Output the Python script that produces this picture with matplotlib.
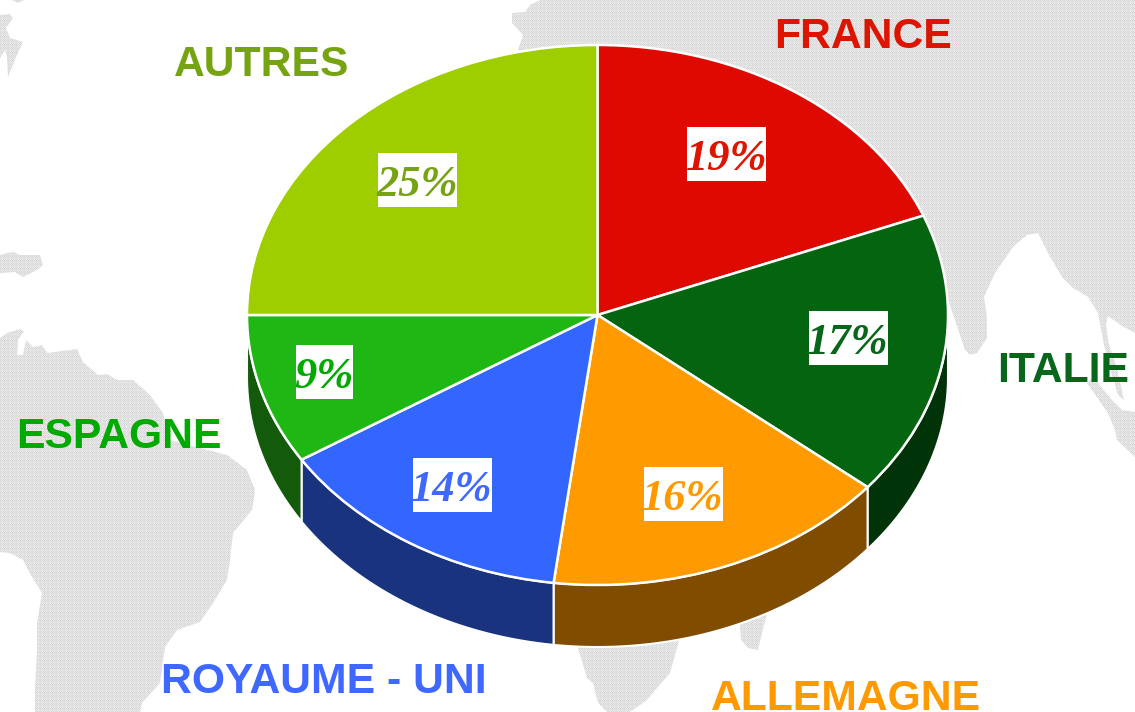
import numpy as np
import matplotlib
matplotlib.use('Agg')
import matplotlib.pyplot as plt
from matplotlib.patches import Polygon, Rectangle
from matplotlib.transforms import Affine2D

# data
pays = ['FRANCE', 'ITALIE', 'ALLEMAGNE', 'ROYAUME - UNI', 'ESPAGNE', 'AUTRES']
parts = [19, 17, 16, 14, 9, 25]
couleurs = ['#DE0A02', '#04640F', '#FF9A00', '#3366FF', '#1FB714', '#9ECD00']
couleurs_cote = ['#8A0601', '#003308', '#804D00', '#1A337F', '#135A0B', '#5F7B00']
couleurs_noms = ['#DD1500', '#06661A', '#FF9900', '#3E68FF', '#00AA00', '#76A310']

# position of the names (left, baseline) and of the white percent boxes (centre)
noms_xy = [(774, 48), (997, 382), (711, 710), (161, 693), (16, 448), (174, 76)]
boites_xy = [(726.5, 154), (848, 338), (683, 494), (452, 485), (324.5, 372), (417.5, 180)]

# background map, outlines in pixels
asie = [(540, 0), (1135, 0), (1135, 333), (1122, 326), (1108, 316), (1106, 325), (1109, 345),
        (1116, 365), (1120, 382), (1124, 400), (1118, 395), (1112, 375), (1104, 345), (1098, 313),
        (1088, 297), (1073, 288), (1062, 277), (1048, 253), (1038, 233), (1027, 235), (1013, 247),
        (995, 273), (984, 297), (987, 317), (987, 338), (977, 353), (970, 355), (965, 350),
        (955, 320), (948, 300), (900, 300), (600, 100), (518, 50), (523, 35), (512, 23),
        (512, 13), (525, 12), (530, 5)]
bande = [(1087, 383), (1093, 377), (1098, 383), (1112, 400), (1122, 410), (1135, 412), (1135, 457),
         (1117, 440), (1115, 430), (1108, 413)]
amerique_sud = [(0, 338), (7, 333), (20, 329), (24, 331), (18, 340), (17, 355), (23, 355), (26, 340),
                (33, 347), (42, 345), (47, 353), (77, 349), (83, 362), (98, 375), (107, 374),
                (117, 380), (133, 380), (150, 395), (163, 413), (170, 440), (200, 448), (227, 455),
                (247, 470), (255, 490), (252, 510), (233, 533), (230, 560), (227, 580), (213, 603),
                (200, 622), (177, 630), (165, 647), (160, 683), (142, 703), (140, 712), (35, 712),
                (35, 690), (37, 650), (37, 623), (42, 593), (32, 577), (23, 560), (10, 553), (0, 552)]
groenland = [(0, 15), (10, 14), (13, 18), (6, 28), (10, 38), (23, 42), (17, 55), (8, 77), (7, 57),
             (5, 50), (0, 58)]
ilot_haut = [(12, 0), (24, 0), (18, 3)]
ilot_gauche = [(0, 255), (7, 253), (14, 252), (20, 255), (40, 255), (43, 265), (37, 270), (23, 277),
               (15, 272), (0, 273)]
afrique = [(578, 630), (578, 648), (587, 678), (593, 683), (598, 703), (607, 712), (630, 712),
           (647, 700), (657, 688), (670, 673), (682, 630)]
madagascar = [(740, 610), (740, 627), (741, 640), (748, 648), (758, 650), (762, 633), (768, 610)]
terres = [asie, bande, amerique_sud, groenland, ilot_haut, ilot_gauche, afrique, madagascar]

# pie geometry in pixels
cx, cy = 597.5, 315
rx, ry = 350.5, 270
epaisseur = 62

fig = plt.figure(figsize=(11.35, 7.12), dpi=100)
ax = fig.add_axes([0, 0, 1, 1])

# dotted grey of the map: a small tile repeated over the picture, cut to each land
tuile = np.array([[0.84, 0.91, 0.84, 0.91],
                  [0.91, 0.84, 0.91, 0.84],
                  [0.84, 0.91, 0.94, 0.91],
                  [0.91, 0.84, 0.91, 0.84]])
trame = np.tile(tuile, (178, 284))[:712, :1135]
for terre in terres:
    im = ax.imshow(trame, cmap='gray', vmin=0, vmax=1, extent=(0, 1135, 712, 0),
                   interpolation='nearest', zorder=1)
    contour = Polygon(terre, closed=True, transform=ax.transData)
    im.set_clip_path(contour)

# side of the pie, only the front half shows
limites = np.cumsum([0] + parts) * 3.6
for i in range(len(parts)):
    a = max(limites[i], 90)
    b = min(limites[i + 1], 270)
    if a >= b:
        continue
    t = np.radians(np.linspace(a, b, 80))
    x = cx + rx * np.sin(t)
    y = cy - ry * np.cos(t)
    xs = np.concatenate([x, x[::-1]])
    ys = np.concatenate([y, y[::-1] + epaisseur])
    ax.fill(xs, ys, facecolor=couleurs_cote[i], edgecolor='white', linewidth=1.5, zorder=2)

# top of the pie, the unit circle is squashed into the ellipse
wedges, _ = ax.pie(parts, colors=couleurs, startangle=90, counterclock=False,
                   wedgeprops=dict(edgecolor='white', linewidth=1.8))
ell = Affine2D().scale(rx, -ry).translate(cx, cy) + ax.transData
for w in wedges:
    w.set_transform(ell)
    w.set_zorder(3)

for i, p in enumerate(parts):
    bx, by = boites_xy[i]
    txt = f'{p}%'
    larg = 57 if p < 10 else 79
    ax.add_patch(Rectangle((bx - larg / 2, by - 27), larg, 54, facecolor='white', edgecolor='none', zorder=4))
    ax.text(bx, by + 16, txt, family='Liberation Serif', weight='bold', style='italic', fontsize=32,
            color=couleurs_noms[i], ha='center', va='baseline', zorder=5)
    ax.text(noms_xy[i][0], noms_xy[i][1], pays[i], family='Liberation Sans', weight='bold', fontsize=30.7,
            color=couleurs_noms[i], ha='left', va='baseline', zorder=5)

ax.set_aspect('auto')
ax.set_xlim(0, 1135)
ax.set_ylim(712, 0)
ax.axis('off')

fig.savefig('out.png', dpi=100)
